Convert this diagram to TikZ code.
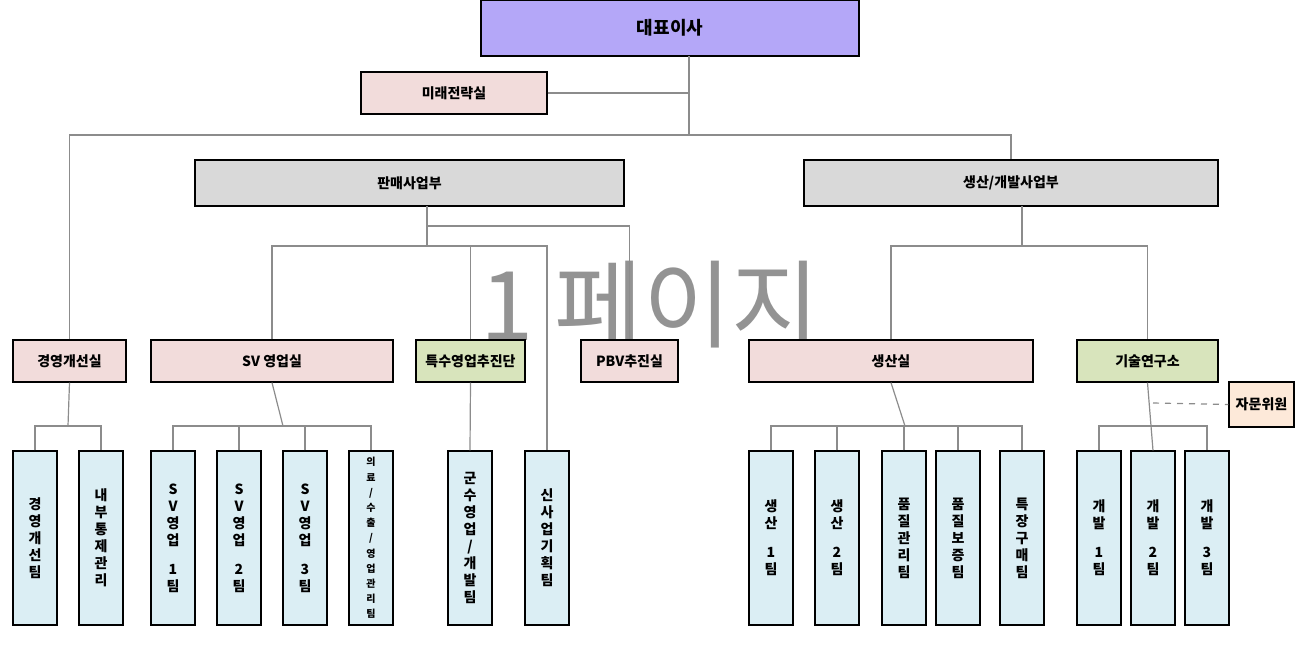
\documentclass[tikz,border=0pt]{standalone}
\usepackage{fontspec}
\setmainfont{Noto Sans CJK KR}
\usetikzlibrary{positioning}
\definecolor{ceoc}{HTML}{B4A7F8}
\definecolor{pinkc}{HTML}{F2DCDB}
\definecolor{grayc}{HTML}{D9D9D9}
\definecolor{greenc}{HTML}{D8E4BC}
\definecolor{teamc}{HTML}{DBEEF4}
\definecolor{peachc}{HTML}{FDE9D9}
\tikzset{
  box/.style={draw=black, line width=0.6pt, inner sep=0pt, font=\fontsize{7}{8}\selectfont\bfseries},
  team/.style={box, fill=teamc, minimum width=22pt, minimum height=87pt, align=center, font=\fontsize{7}{8.5}\selectfont\bfseries},
  link/.style={draw=gray!90, line width=0.6pt}
}
\begin{document}
\begin{tikzpicture}[x=0.5pt,y=-0.5pt]
\useasboundingbox (0,0) rectangle (1298,645);
% watermark
\node[text=gray!85, font=\fontsize{48}{48}\selectfont] (mark) at (650,305) {1 페이지};

% top level
\node[box, fill=ceoc, minimum width=189pt, minimum height=28pt, font=\fontsize{9}{10}\selectfont\bfseries] (ceo) at (670,28) {대표이사};
\node[box, fill=pinkc, minimum width=93pt, minimum height=21pt] (future) at (454,93) {미래전략실};
\node[box, fill=grayc, minimum width=214.5pt, minimum height=23pt] (sales) at (409.5,183) {판매사업부};
\node[box, fill=grayc, minimum width=207pt, minimum height=23pt] (prod) at (1011,183) {생산/개발사업부};

% offices
\node[box, fill=pinkc, minimum width=56.5pt, minimum height=21pt] (mgmt) at (69.5,361) {경영개선실};
\node[box, fill=pinkc, minimum width=121pt, minimum height=21pt] (sv) at (272,361) {SV 영업실};
\node[box, fill=greenc, minimum width=54.5pt, minimum height=21pt] (special) at (470.5,361) {특수영업추진단};
\node[box, fill=pinkc, minimum width=48.5pt, minimum height=21pt] (pbv) at (629.5,361) {PBV추진실};
\node[box, fill=pinkc, minimum width=142pt, minimum height=21pt] (plant) at (891,361) {생산실};
\node[box, fill=greenc, minimum width=70.5pt, minimum height=21pt] (lab) at (1147.5,361) {기술연구소};
\node[box, fill=peachc, minimum width=32.5pt, minimum height=22.5pt] (advisor) at (1261.5,404.5) {자문위원};

% teams
\node[team] (t1) at (35,538) {경\\영\\개\\선\\팀};
\node[team] (t2) at (101,538) {내\\부\\통\\제\\관\\리};
\node[team] (t3) at (173,538) {S\\V\\영\\업\\[6pt]1\\팀};
\node[team] (t4) at (239,538) {S\\V\\영\\업\\[6pt]2\\팀};
\node[team] (t5) at (305,538) {S\\V\\영\\업\\[6pt]3\\팀};
\node[team, font=\fontsize{5}{7.6}\selectfont\bfseries] (t6) at (371,538) {의\\료\\/\\수\\출\\/\\영\\업\\관\\리\\팀};
\node[team] (t7) at (470,538) {군\\수\\영\\업\\/\\개\\발\\팀};
\node[team] (t8) at (547,538) {신\\사\\업\\기\\획\\팀};
\node[team] (p1) at (771,538) {생\\산\\[6pt]1\\팀};
\node[team] (p2) at (837,538) {생\\산\\[6pt]2\\팀};
\node[team] (p3) at (904,538) {품\\질\\관\\리\\팀};
\node[team] (p4) at (958,538) {품\\질\\보\\증\\팀};
\node[team] (p5) at (1022,538) {특\\장\\구\\매\\팀};
\node[team] (d1) at (1099,538) {개\\발\\[6pt]1\\팀};
\node[team] (d2) at (1153,538) {개\\발\\[6pt]2\\팀};
\node[team] (d3) at (1207,538) {개\\발\\[6pt]3\\팀};

% bus points
\coordinate (ceoout) at (689,56);
\coordinate (topbus) at (689,135);
\coordinate (salesout) at (427,206);
\coordinate (prodout) at (1022,206);

% connectors
\draw[link] (ceoout) -- (topbus);
\draw[link] (future.east) -- (future.east -| ceoout);
\draw[link] (mgmt.north) |- (topbus) -| (prod.north);
\draw[link] (salesout) -- (427,246);
\draw[link] (sv.north) |- (427,246) -| (t8.north);
\draw[link] (special.north) -- ++(0,-94);
\draw[link] (427,226) -| (pbv.north);
\draw[link] (prodout) -- (1022,246);
\draw[link] (plant.north) |- (1022,246) -| (lab.north);
\draw[link] (mgmt.south) -- (68,426);
\draw[link] (t1.north) |- (t2.north |- 0,426) -- (t2.north);
\draw[link] (sv.south) -- (283,426);
\draw[link] (t3.north) |- (t6.north |- 0,426) -- (t6.north);
\draw[link] (t4.north) -- (t4.north |- 0,426);
\draw[link] (t5.north) -- (t5.north |- 0,426);
\draw[link] (special.south) -- (t7.north);
\draw[link] (plant.south) -- (905,426);
\draw[link] (p1.north) |- (p5.north |- 0,426) -- (p5.north);
\foreach \t in {p2,p3,p4} \draw[link] (\t.north) -- (\t.north |- 0,426);
\draw[link] (lab.south) -- (d2.north);
\draw[link] (d1.north) |- (d3.north |- 0,426) -- (d3.north);
\draw[link, dashed] (1153,403) -- (advisor.west);
\end{tikzpicture}
\end{document}
